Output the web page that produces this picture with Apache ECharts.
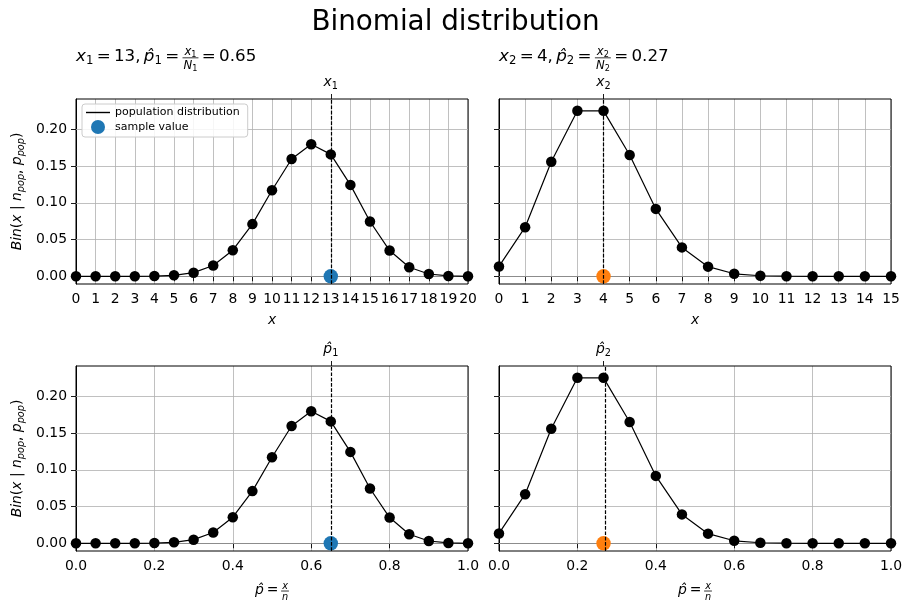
<!DOCTYPE html>
<html lang="en">
<head>
<meta charset="UTF-8">
<title>Binomial distribution</title>
<script src="https://cdn.jsdelivr.net/npm/echarts@6/dist/echarts.min.js"></script>
<style>
    html, body, #chart {
        width: 100%;
        height: 100%;
        margin: 0;
        padding: 0;
        background: #fff;
    }
</style>
</head>
<body>
<div id="chart"></div>
<script>
    // --- data ---
    var xs1 = [0, 1, 2, 3, 4, 5, 6, 7, 8, 9, 10, 11, 12, 13, 14, 15, 16, 17, 18, 19, 20];
    var pmf1 = [0.0000, 0.0000, 0.0000, 0.0000, 0.0003, 0.0013, 0.0049, 0.0146, 0.0355, 0.0710, 0.1171,
                0.1597, 0.1797, 0.1659, 0.1244, 0.0746, 0.0350, 0.0123, 0.0031, 0.0005, 0.0000];
    var xs2 = [0, 1, 2, 3, 4, 5, 6, 7, 8, 9, 10, 11, 12, 13, 14, 15];
    var pmf2 = [0.0134, 0.0668, 0.1559, 0.2252, 0.2252, 0.1651, 0.0917, 0.0393, 0.0131, 0.0034, 0.0007,
                0.0001, 0.0000, 0.0000, 0.0000, 0.0000];
    var phat1 = [0, 0.05, 0.10, 0.15, 0.20, 0.25, 0.30, 0.35, 0.40, 0.45, 0.50,
                 0.55, 0.60, 0.65, 0.70, 0.75, 0.80, 0.85, 0.90, 0.95, 1.00];
    var phat2 = [0, 0.0667, 0.1333, 0.2, 0.2667, 0.3333, 0.4, 0.4667, 0.5333, 0.6, 0.6667,
                 0.7333, 0.8, 0.8667, 0.9333, 1.0];
    var sampleX1 = 13, sampleX2 = 4;
    var sampleP1 = 0.65, sampleP2 = 0.2667;
    var yTicks = [0, 0.05, 0.10, 0.15, 0.20];

    var FONT = '"DejaVu Sans", sans-serif';
    var BLUE = '#1f77b4', ORANGE = '#ff7f0e', GRID = '#b0b0b0';
    var TICK = 13.9;
    var TH = '\u2009';

    // --- tiny math-text layout (subscripts, fractions) drawn as graphic text ---
    var mctx = document.createElement('canvas').getContext('2d');
    function measure(t, size, italic) {
        mctx.font = (italic ? 'italic ' : '') + size + 'px ' + FONT;
        return mctx.measureText(t).width;
    }
    function I(t) { return { t: t, it: true }; }
    function R(t) { return { t: t, it: false }; }
    function Sub(t, it) { return { t: t, it: !!it, sub: true }; }
    function Frac(num, den) { return { frac: [num, den] }; }

    function layout(run, s) {
        var x = 0, items = [], bars = [];
        function put(part, dx, db) {
            part.items.forEach(function (it) {
                items.push({ t: it.t, x: it.x + dx, b: it.b + db, size: it.size, it: it.it });
            });
            part.bars.forEach(function (b) { bars.push({ x: b.x + dx, w: b.w, y: b.y + db }); });
        }
        run.forEach(function (p) {
            if (p.frac) {
                var n = layout(p.frac[0], s * 0.7), d = layout(p.frac[1], s * 0.7);
                var w = Math.max(n.w, d.w) + s * 0.12;
                var bar = -0.25 * s;
                put(n, x + (w - n.w) / 2, bar - 0.12 * s);
                put(d, x + (w - d.w) / 2, bar + 0.69 * s);
                bars.push({ x: x, w: w, y: bar });
                x += w;
            } else if (p.sub) {
                var ss = s * 0.7;
                items.push({ t: p.t, x: x, b: 0.18 * s, size: ss, it: p.it });
                x += measure(p.t, ss, p.it);
            } else {
                items.push({ t: p.t, x: x, b: 0, size: s, it: p.it });
                x += measure(p.t, s, p.it);
            }
        });
        return { w: x, items: items, bars: bars };
    }

    function mathGraphic(run, s, x, baseY, align) {
        var lay = layout(run, s);
        var x0 = align === 'center' ? x - lay.w / 2 : x;
        var els = [];
        lay.items.forEach(function (it) {
            els.push({
                type: 'text', x: x0 + it.x, y: baseY + it.b - 0.33 * it.size, silent: true,
                style: {
                    text: it.t, fill: '#000', fontSize: it.size, fontFamily: FONT,
                    fontStyle: it.it ? 'italic' : 'normal', align: 'left', verticalAlign: 'middle'
                }
            });
        });
        lay.bars.forEach(function (b) {
            els.push({
                type: 'line', silent: true,
                shape: { x1: x0 + b.x, y1: baseY + b.y, x2: x0 + b.x + b.w, y2: baseY + b.y },
                style: { stroke: '#000', lineWidth: 0.8 }
            });
        });
        return els;
    }

    var richStyles = {
        i: { fontStyle: 'italic', fontSize: TICK, fontFamily: FONT, color: '#000', lineHeight: 18, verticalAlign: 'middle' },
        r: { fontSize: TICK, fontFamily: FONT, color: '#000', lineHeight: 18, verticalAlign: 'middle' },
        s: { fontStyle: 'italic', fontSize: 9.7, fontFamily: FONT, color: '#000', lineHeight: 18, verticalAlign: 'bottom' },
        sr: { fontSize: 9.7, fontFamily: FONT, color: '#000', lineHeight: 18, verticalAlign: 'bottom' }
    };

    var grids = [
        { left: 76, top: 99, width: 392, height: 185 },
        { left: 499, top: 99, width: 392, height: 185 },
        { left: 76, top: 366, width: 392, height: 185 },
        { left: 499, top: 366, width: 392, height: 185 }
    ];

    var panels = [
        { xs: xs1, ys: pmf1, mark: sampleX1, color: BLUE, max: 20, step: 1, top: '{i|x}{sr|1}', xName: 'x', yName: true, main: 'population distribution', dot: 'sample value' },
        { xs: xs2, ys: pmf2, mark: sampleX2, color: ORANGE, max: 15, step: 1, top: '{i|x}{sr|2}', xName: 'x', yName: false },
        { xs: phat1, ys: pmf1, mark: sampleP1, color: BLUE, max: 1, step: 0.2, top: '{i|p\u0302}{sr|1}', xName: '', yName: true },
        { xs: phat2, ys: pmf2, mark: sampleP2, color: ORANGE, max: 1, step: 0.2, top: '{i|p\u0302}{sr|2}', xName: '', yName: false }
    ];

    function pairs(xs, ys) {
        return xs.map(function (x, i) { return [x, ys[i]]; });
    }

    var xAxes = [], yAxes = [], series = [];
    panels.forEach(function (p, g) {
        xAxes.push({
            type: 'value', gridIndex: g, position: 'bottom', min: 0, max: p.max, interval: p.step,
            name: p.xName, nameLocation: 'middle', nameGap: 29,
            nameTextStyle: { fontStyle: 'italic', fontSize: TICK, fontFamily: FONT, color: '#000' },
            axisLine: { show: true, lineStyle: { color: '#000', width: 1 } },
            axisTick: { show: true, length: 5, lineStyle: { color: '#000', width: 0.9 } },
            axisLabel: {
                margin: 8, fontSize: TICK, fontFamily: FONT, color: '#000',
                formatter: function (v) { return p.step < 1 ? v.toFixed(1) : String(v); }
            },
            splitLine: { show: true, lineStyle: { color: GRID, width: 0.8 } }
        });
        xAxes.push({
            type: 'value', gridIndex: g, position: 'top', min: 0, max: p.max,
            axisLine: { show: false },
            axisTick: { show: true, length: 5, customValues: [p.mark], lineStyle: { color: '#000', width: 0.9 } },
            axisLabel: {
                show: true, margin: 8, customValues: [p.mark],
                formatter: function () { return p.top; }, rich: richStyles
            },
            splitLine: { show: false }
        });
        yAxes.push({
            type: 'value', gridIndex: g, min: -0.0105, max: 0.2413,
            name: p.yName ? '{i|Bin}{r|(}{i|x}{r| | }{i|n}{s|pop}{r|, }{i|p}{s|pop}{r|)}' : '',
            nameLocation: 'middle', nameRotate: 90, nameGap: 50,
            nameTextStyle: { rich: richStyles },
            axisLine: { show: true, lineStyle: { color: '#000', width: 1 } },
            axisTick: { show: true, length: 5, customValues: yTicks, lineStyle: { color: '#000', width: 0.9 } },
            axisLabel: {
                show: p.yName, margin: 9, customValues: yTicks, fontSize: TICK, fontFamily: FONT, color: '#000',
                formatter: function (v) { return v.toFixed(2); }
            },
            splitLine: { show: false }
        });

        // horizontal grid lines at the y ticks
        series.push({
            type: 'line', xAxisIndex: 2 * g, yAxisIndex: g, data: pairs(p.xs, p.ys), silent: true,
            symbol: 'none', lineStyle: { opacity: 0 }, z: 1,
            markLine: {
                silent: true, symbol: ['none', 'none'], z: 1, animation: false, label: { show: false },
                lineStyle: { color: GRID, width: 0.8, type: 'solid' },
                data: yTicks.map(function (v) { return { yAxis: v }; })
            }
        });
        series.push({
            type: 'line', name: p.main || ('population ' + g), xAxisIndex: 2 * g, yAxisIndex: g,
            data: pairs(p.xs, p.ys), symbol: 'circle', symbolSize: 10.5, z: 3,
            itemStyle: { color: '#000' }, lineStyle: { color: '#000', width: 1.2 },
            markLine: {
                silent: true, symbol: ['none', 'none'], z: 6, animation: false, label: { show: false },
                lineStyle: { color: '#000', width: 1.2, type: [3.7, 1.6] },
                data: [{ xAxis: p.mark }]
            }
        });
        series.push({
            type: 'scatter', name: p.dot || ('sample ' + g), xAxisIndex: 2 * g, yAxisIndex: g,
            data: [[p.mark, 0]], symbolSize: 14.5, z: 4, itemStyle: { color: p.color, opacity: 1 }
        });
    });

    var graphics = []
        .concat(mathGraphic([I('x'), Sub('1'), R(TH + '=' + TH + '13,' + TH), I('p\u0302'), Sub('1'), R(TH + '=' + TH),
            Frac([I('x'), Sub('1')], [I('N'), Sub('1')]), R(TH + '=' + TH + '0.65')], 16.7, 76, 62, 'left'))
        .concat(mathGraphic([I('x'), Sub('2'), R(TH + '=' + TH + '4,' + TH), I('p\u0302'), Sub('2'), R(TH + '=' + TH),
            Frac([I('x'), Sub('2')], [I('N'), Sub('2')]), R(TH + '=' + TH + '0.27')], 16.7, 499, 62, 'left'))
        .concat(mathGraphic([I('p\u0302'), R(TH + '=' + TH), Frac([I('x')], [I('n')])], TICK, 272, 594.5, 'center'))
        .concat(mathGraphic([I('p\u0302'), R(TH + '=' + TH), Frac([I('x')], [I('n')])], TICK, 695, 594.5, 'center'));

    var chart = echarts.init(document.getElementById('chart'));
    chart.setOption({
        animation: false,
        backgroundColor: '#fff',
        title: {
            text: 'Binomial distribution', left: 'center', top: 4,
            textStyle: { fontSize: 27.8, fontWeight: 'normal', fontFamily: FONT, color: '#000' }
        },
        legend: {
            data: [
                { name: 'population distribution', icon: 'path://M0,0H24V1.4H0Z' },
                { name: 'sample value', icon: 'circle' }
            ],
            left: 82, top: 104, orient: 'vertical', selectedMode: false,
            itemWidth: 24, itemHeight: 14, itemGap: 2, padding: [3, 8, 3, 4],
            backgroundColor: 'rgba(255,255,255,0.85)', borderColor: '#cccccc', borderWidth: 1, borderRadius: 3,
            textStyle: { fontSize: 11, fontFamily: FONT, color: '#000' }
        },
        grid: grids.map(function (g) {
            return {
                left: g.left, top: g.top, width: g.width, height: g.height, z: 1,
                show: true, borderColor: '#000', borderWidth: 1, backgroundColor: 'transparent'
            };
        }),
        xAxis: xAxes,
        yAxis: yAxes,
        series: series,
        graphic: graphics
    });
</script>
</body>
</html>
